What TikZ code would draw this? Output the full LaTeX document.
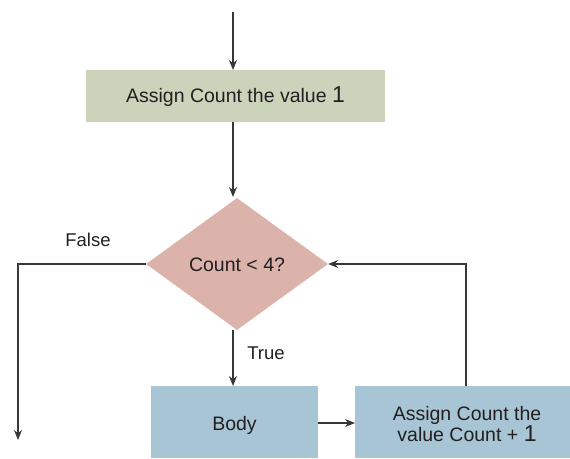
\documentclass[tikz,border=0pt]{standalone}
\usepackage{fontspec}
\setmainfont{Liberation Sans}
\usetikzlibrary{shapes.geometric,arrows.meta}
\definecolor{boxgreen}{HTML}{CBD3BB}
\definecolor{boxpink}{HTML}{DCB3AB}
\definecolor{boxblue}{HTML}{A7C5D5}
\definecolor{ink}{HTML}{231F20}
\definecolor{wire}{HTML}{383838}
\begin{document}
\begin{tikzpicture}[x=1pt,y=-1pt,
  every node/.style={text=ink,font=\fontsize{19.5}{23}\selectfont},
  rectbox/.style={draw=none,inner sep=0pt,align=center},
  decision/.style={diamond,draw=none,fill=boxpink,inner sep=0pt,aspect=1.379,minimum width=182pt,minimum height=132pt},
  conn/.style={draw=wire,line width=1.3pt,-{Stealth[length=10pt,width=8pt]}},
  lbl/.style={font=\fontsize{18.5}{22}\selectfont,anchor=base,inner sep=0pt}]
\useasboundingbox (0,0) rectangle (570,458);
% boxes
\fill[boxgreen] (86,70) rectangle (385,122);
\node[rectbox,anchor=base] (assign) at (235.5,102) {Assign Count the value {\fontsize{23}{23}\selectfont 1}};
\node[decision] (cond) at (237,264) {};
\node[rectbox,anchor=base] (condtext) at (237,271) {Count < 4?};
\fill[boxblue] (151,386) rectangle (318,458);
\node[rectbox,anchor=base] (body) at (234.5,430) {Body};
\fill[boxblue] (355,386) rectangle (570,458);
\node[rectbox] (incr) at (467,424) {Assign Count the\\[-2pt]value Count + {\fontsize{23}{23}\selectfont 1}};
% anchor coordinates
\coordinate (start) at (233,12);
\coordinate (assigntop) at (233,70);
\coordinate (assignbot) at (233,122);
\coordinate (condtop) at (233,197);
\coordinate (condbot) at (233,330);
\coordinate (bodytop) at (233,386);
\coordinate (bodyright) at (318,423);
\coordinate (incrleft) at (355,423);
\coordinate (incrtop) at (466,386);
\coordinate (falseend) at (18,440);
% connectors
\draw[conn] (start) -- (assigntop);
\draw[conn] (assignbot) -- (condtop);
\draw[conn] (cond.west) -- (18,264) -- (falseend);
\draw[conn] (condbot) -- (bodytop);
\draw[conn] (bodyright) -- (incrleft);
\draw[conn] (incrtop) -- (466,264) -- (cond.east);
% labels
\node[lbl] (falselbl) at (88,246) {False};
\node[lbl] (truelbl) at (266,359) {True};
\end{tikzpicture}
\end{document}
